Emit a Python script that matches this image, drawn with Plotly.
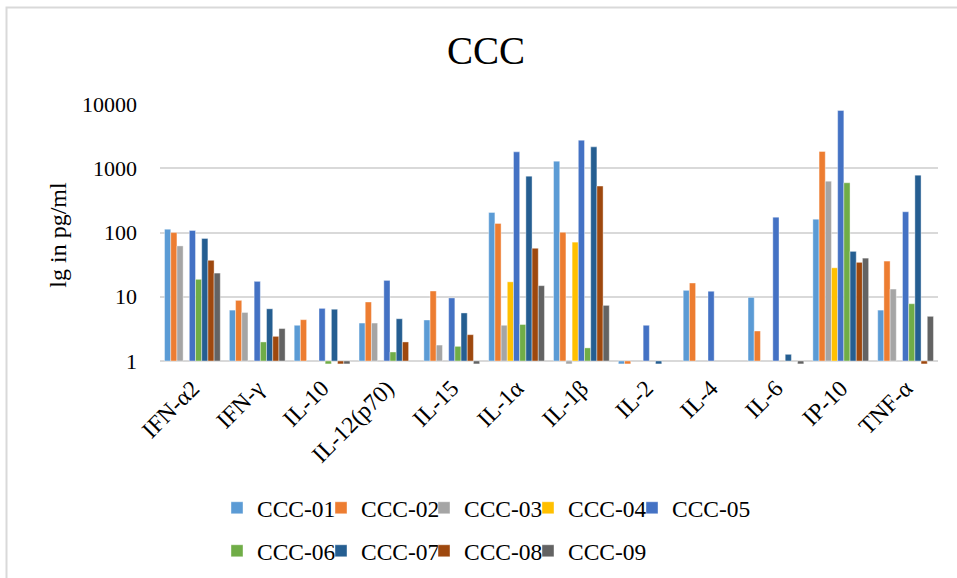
import plotly.graph_objects as go

categories = ["IFN-α2", "IFN-γ", "IL-10", "IL-12(p70)", "IL-15", "IL-1α",
              "IL-1β", "IL-2", "IL-4", "IL-6", "IP-10", "TNF-α"]

series_names = ["CCC-01", "CCC-02", "CCC-03", "CCC-04", "CCC-05",
                "CCC-06", "CCC-07", "CCC-08", "CCC-09"]

ccc_01 = [113, 6.2, 3.6, 3.9, 4.35, 206, 1297, 0.9, 12.6, 9.8, 162, 6.2]
ccc_02 = [100, 8.8, 4.4, 8.3, 12.3, 139, 101, 0.9, 16.4, 2.93, 1836, 36]
ccc_03 = [62, 5.7, None, 3.9, 1.77, 3.6, 0.9, None, None, None, 632, 13.2]
ccc_04 = [None, None, None, None, None, 17.1, 71, None, None, None, 28.3, None]
ccc_05 = [108, 17.4, 6.6, 18, 9.6, 1810, 2750, 3.6, 12.2, 174, 7985, 211]
ccc_06 = [18.7, 1.98, 0.9, 1.38, 1.69, 3.7, 1.6, None, None, None, 597, 7.8]
ccc_07 = [81, 6.5, 6.4, 4.55, 5.6, 757, 2165, 0.9, None, 1.27, 51, 785]
ccc_08 = [37, 2.42, 0.9, 1.98, 2.57, 57, 530, None, None, None, 34.4, 0.9]
ccc_09 = [23.4, 3.2, 0.9, None, 0.9, 14.9, 7.35, None, None, 0.9, 40, 4.96]

series_values = [ccc_01, ccc_02, ccc_03, ccc_04, ccc_05,
                 ccc_06, ccc_07, ccc_08, ccc_09]

colors = ["#5B9BD5", "#ED7D31", "#A5A5A5", "#FFC000", "#4472C4",
          "#70AD47", "#255E91", "#9E480E", "#636363"]

y_tick_values = [1, 10, 100, 1000, 10000]
y_tick_labels = ["1", "10", "100", "1000", "10000"]

FONT = "Liberation Serif"
AXIS_BASE = 1  # Excel-style log axis: bars hang from 1

W, H = 957, 578
L, R, T, B = 160, 19, 104, 212
pw, ph = W - L - R, H - T - B


def px_x(p):
    return (p - L) / pw


def px_y(p):
    return (H - B - p) / ph


# legend layout (pixel positions of each entry's text start, per row)
legend_cols = [253, 357, 460, 564, 668]
legend_rows = [508, 551]

fig = go.Figure()
layout_legends = {}
for i, (name, vals, col) in enumerate(zip(series_names, series_values, colors)):
    lname = "legend" if i == 0 else f"legend{i + 1}"
    row, colidx = divmod(i, 5)
    fig.add_trace(go.Bar(
        x=categories,
        y=[None if v is None else v - AXIS_BASE for v in vals],
        base=AXIS_BASE,
        customdata=vals,
        hovertemplate="%{x}: %{customdata}<extra>" + name + "</extra>",
        name=name,
        showlegend=True,
        marker=dict(color=col, line=dict(color="rgba(255,255,255,0.5)", width=0.8)),
        legend=lname,
    ))
    layout_legends[lname] = dict(
        orientation="h", x=px_x(legend_cols[colidx] + 3 - 39), xanchor="left",
        y=px_y(legend_rows[row]), yanchor="middle",
        font=dict(family=FONT, size=23.5, color="black"),
        itemwidth=30, bgcolor="rgba(0,0,0,0)",
    )

fig.update_layout(
    width=W, height=H, showlegend=True,
    margin=dict(l=L, r=R, t=T, b=B, autoexpand=False),
    paper_bgcolor="white", plot_bgcolor="white",
    font=dict(family=FONT, color="black", size=22),
    barmode="group", bargap=0.14, bargroupgap=0,
    title=dict(text="CCC", x=486 / W, xanchor="center", y=1 - 50 / H, yanchor="middle",
               xref="container", yref="container",
               font=dict(family=FONT, size=39, color="black")),
    xaxis=dict(type="category", tickangle=-45, showgrid=False, showline=False,
               ticks="", tickfont=dict(size=23.5), automargin=False,
               ticklabelstandoff=3),
    yaxis=dict(type="log", range=[-0.078, 4.003], tickvals=y_tick_values,
               ticktext=y_tick_labels, showgrid=True, gridcolor="#d9d9d9",
               gridwidth=1.6, zeroline=False, showline=False, ticks="",
               ticklabelstandoff=22, tickfont=dict(size=22), automargin=False,
               title=dict(text="lg in pg/ml", font=dict(size=24), standoff=8)),
    shapes=[dict(type="rect", xref="paper", yref="paper",
                 x0=px_x(6.5), x1=px_x(W + 20), y0=px_y(H + 20), y1=px_y(7.5),
                 line=dict(color="#d9d9d9", width=2), fillcolor="rgba(0,0,0,0)",
                 layer="below")],
    **layout_legends,
)

fig.write_html("out.html", config={"displayModeBar": False},
               post_script="document.body.style.margin='0';")
